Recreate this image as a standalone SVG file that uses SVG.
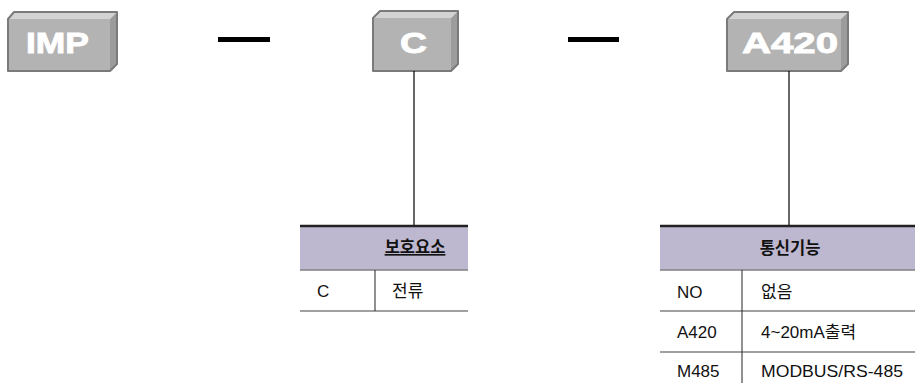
<svg xmlns="http://www.w3.org/2000/svg" width="916" height="383" viewBox="0 0 916 383">
<style>
.front{fill:#b3b3b3}
.top{fill:#d3d3d3}
.side{fill:#9c9c9c}
.edge{fill:none;stroke:#7a7a7a;stroke-width:2;stroke-linejoin:round}
.bt{font-family:"Liberation Sans",Arial,sans-serif;font-weight:bold;font-size:30px;fill:#ffffff;stroke:#ffffff;stroke-width:0.9}
.hdr{fill:#bdb8cf}
.tl{stroke:#222;stroke-width:2.5}
.rl{stroke:#808080;stroke-width:1.5}
.cl{stroke:#222;stroke-width:1}
.conn{stroke:#000;stroke-width:1.2}
.t{font-family:"Liberation Sans","Noto Sans CJK KR",Arial,sans-serif;font-size:17px;fill:#111}
.th{font-family:"Noto Sans CJK KR",sans-serif;font-size:16.5px;font-weight:bold;fill:#111}
</style>
<rect width="916" height="383" fill="#fff"/>
<g id="node-imp">
<polygon class="front" points="8,19 110,19 110,71 8,71"/>
<polygon class="top" points="8,19 14,12 117,12 110,19"/>
<polygon class="side" points="110,19 117,12 117,64 110,71"/>
<path class="edge" d="M8,71 L8,19 L14,12 L117,12 L117,64 L110,71 Z"/>
<text class="bt" x="26" y="53" textLength="63" lengthAdjust="spacingAndGlyphs">IMP</text>
</g>
<g id="node-c">
<polygon class="front" points="373,18 451,18 451,71 373,71"/>
<polygon class="top" points="373,18 380,11 458,11 451,18"/>
<polygon class="side" points="451,18 458,11 458,64 451,71"/>
<path class="edge" d="M373,71 L373,18 L380,11 L458,11 L458,64 L451,71 Z"/>
<text class="bt" x="400" y="53" textLength="27" lengthAdjust="spacingAndGlyphs">C</text>
</g>
<g id="node-a420">
<polygon class="front" points="727,19 841,19 841,71 727,71"/>
<polygon class="top" points="727,19 734,12 848,12 841,19"/>
<polygon class="side" points="841,19 848,12 848,64 841,71"/>
<path class="edge" d="M727,71 L727,19 L734,12 L848,12 L848,64 L841,71 Z"/>
<text class="bt" x="742" y="53" textLength="96" lengthAdjust="spacingAndGlyphs">A420</text>
</g>
<g id="dash-1"><rect x="218" y="37" width="52" height="5" fill="#000"/></g>
<g id="dash-2"><rect x="568" y="37" width="51" height="5" fill="#000"/></g>
<g id="connectors">
<line class="conn" x1="414" y1="71" x2="414" y2="226"/>
<line class="conn" x1="789" y1="71" x2="789" y2="226"/>
</g>
<g id="table-protect">
<rect class="hdr" x="300" y="226" width="168" height="44"/>
<line class="tl" x1="300" y1="226" x2="468" y2="226"/>
<line class="rl" x1="300" y1="270" x2="468" y2="270"/>
<line class="rl" x1="300" y1="311" x2="468" y2="311"/>
<line class="cl" x1="375" y1="270" x2="375" y2="311"/>
<text class="th" x="415" y="253" text-anchor="middle" text-decoration="underline">보호요소</text>
<text class="t" x="317" y="297">C</text>
<text class="t" x="392" y="297">전류</text>
</g>
<g id="table-comm">
<rect class="hdr" x="660" y="226" width="255" height="44"/>
<line class="tl" x1="660" y1="226" x2="915" y2="226"/>
<line class="rl" x1="660" y1="270" x2="915" y2="270"/>
<line class="rl" x1="660" y1="311" x2="915" y2="311"/>
<line class="rl" x1="660" y1="352" x2="915" y2="352"/>
<line class="cl" x1="742" y1="270" x2="742" y2="383"/>
<text class="th" x="790" y="254" text-anchor="middle">통신기능</text>
<text class="t" x="677" y="298">NO</text>
<text class="t" x="761" y="298">없음</text>
<text class="t" x="677" y="338">A420</text>
<text class="t" x="761" y="338">4~20mA출력</text>
<text class="t" x="677" y="377">M485</text>
<text class="t" x="761" y="377" textLength="142" lengthAdjust="spacingAndGlyphs">MODBUS/RS-485</text>
</g>
</svg>
